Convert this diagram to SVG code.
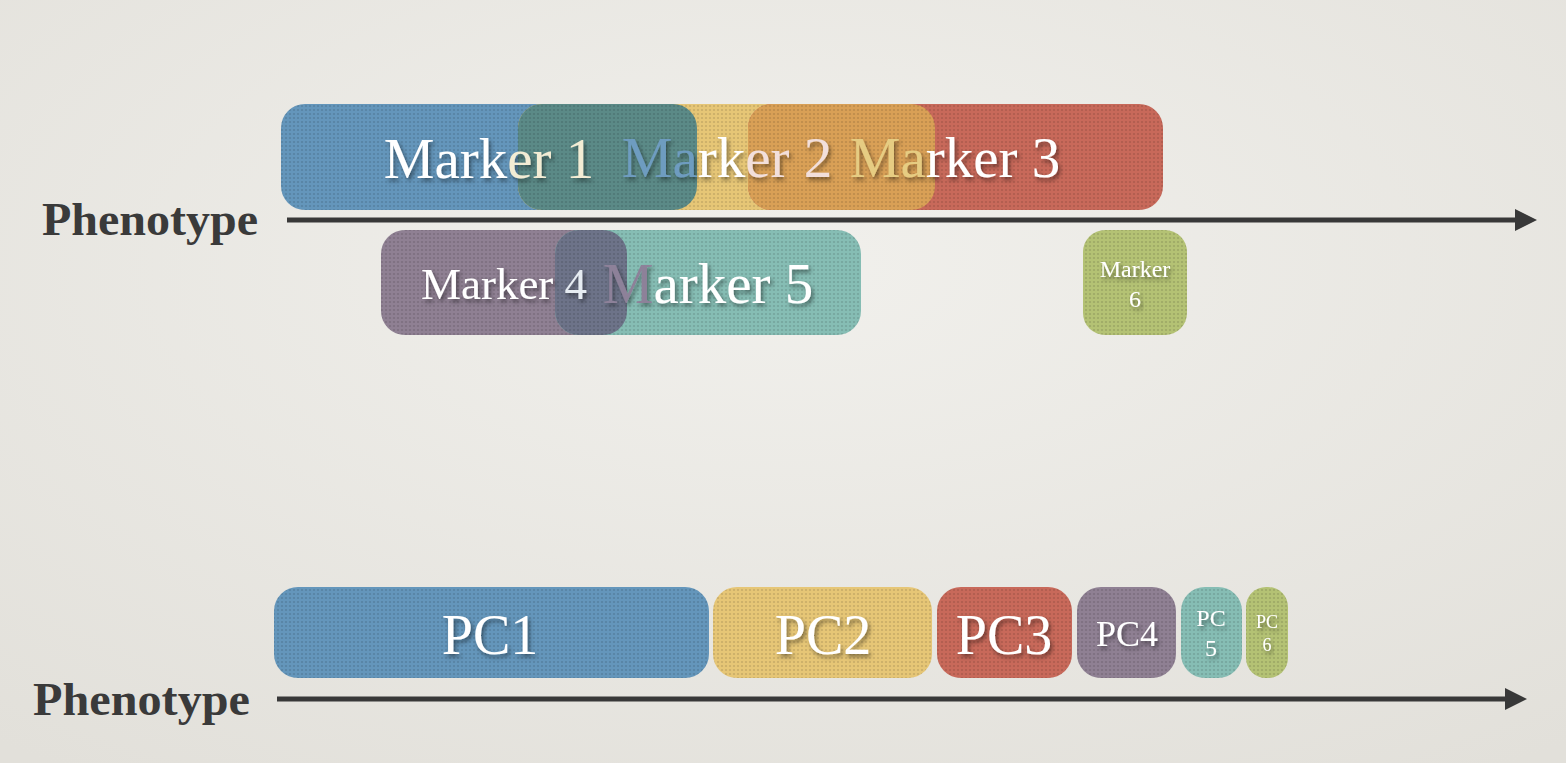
<svg xmlns="http://www.w3.org/2000/svg" width="1566" height="763" viewBox="0 0 1566 763">
<defs>
<radialGradient id="bg" cx="0.5" cy="0.35" r="0.8">
<stop offset="0" stop-color="#f1f0ec"/>
<stop offset="1" stop-color="#e2e0da"/>
</radialGradient>
<pattern id="dots" width="4" height="4" patternUnits="userSpaceOnUse">
<circle cx="2" cy="2" r="1.1" fill="#000" fill-opacity="0.13"/>
</pattern>
<filter id="sh" x="-20%" y="-30%" width="140%" height="160%">
<feDropShadow dx="2" dy="3" stdDeviation="2" flood-color="#000" flood-opacity="0.45"/>
</filter>
<marker id="arr" viewBox="0 0 22 22" refX="0" refY="11" markerWidth="22" markerHeight="22" markerUnits="userSpaceOnUse" orient="auto">
<path d="M0,0 L22,11 L0,22 Z" fill="#383838"/>
</marker>
</defs>
<style>
.lbl{font-family:"Liberation Serif","DejaVu Serif",serif;fill:#fff;text-anchor:middle;filter:url(#sh)}
.ph{font-family:"Liberation Serif","DejaVu Serif",serif;font-weight:bold;fill:#3a3a3a}
.dot{fill:url(#dots)}
.axis{stroke:#383838;stroke-width:5;fill:none}
</style>
<rect width="1566" height="763" fill="url(#bg)"/>

<g id="connectors">
<line class="axis" x1="287" y1="220" x2="1515" y2="220" marker-end="url(#arr)"/>
<line class="axis" x1="277" y1="699" x2="1505" y2="699" marker-end="url(#arr)"/>
</g>

<text class="ph" x="42" y="235" font-size="46" textLength="216" lengthAdjust="spacingAndGlyphs">Phenotype</text>
<text class="ph" x="33" y="715" font-size="46" textLength="217" lengthAdjust="spacingAndGlyphs">Phenotype</text>

<g id="marker1">
<rect x="281" y="104" width="416" height="106" rx="24" fill="#6496bb"/>
</g>
<g id="marker2">
<rect x="518" y="104" width="417" height="106" rx="24" fill="#e6c676"/>
</g>
<g id="marker3">
<rect x="748" y="104" width="415" height="106" rx="24" fill="#c8695a"/>
</g>
<rect x="518" y="104" width="179" height="106" rx="24" fill="#5b8a87"/>
<rect x="748" y="104" width="187" height="106" rx="24" fill="#d9a056"/>
<rect x="281" y="104" width="882" height="106" rx="24" class="dot"/>
<text class="lbl" x="489" y="178" font-size="57">Mark<tspan fill="#f3ecd4">er 1</tspan></text>
<text class="lbl" x="727" y="177" font-size="57"><tspan fill="#6e9cc0">Ma</tspan>rk<tspan fill="#f2dfdb">er 2</tspan></text>
<text class="lbl" x="955" y="177" font-size="57"><tspan fill="#e6cc82">Ma</tspan>rker 3</text>

<g id="marker4">
<rect x="381" y="230" width="246" height="105" rx="24" fill="#8f8093"/>
</g>
<g id="marker5">
<rect x="555" y="230" width="306" height="105" rx="24" fill="#86bdb4"/>
</g>
<rect x="555" y="230" width="72" height="105" rx="24" fill="#6d7389"/>
<rect x="381" y="230" width="480" height="105" rx="24" class="dot"/>
<text class="lbl" x="504" y="299" font-size="45">Marker <tspan fill="#e6ecf2">4</tspan></text>
<text class="lbl" x="708" y="303" font-size="57"><tspan fill="#8d8199">M</tspan>arker 5</text>

<g id="marker6">
<rect x="1083" y="230" width="104" height="105" rx="22" fill="#b4c274"/>
<rect x="1083" y="230" width="104" height="105" rx="22" class="dot"/>
<text class="lbl" x="1135" y="277" font-size="24">Marker</text>
<text class="lbl" x="1135" y="307" font-size="24">6</text>
</g>

<g id="pc1">
<rect x="274" y="587" width="435" height="91" rx="24" fill="#6496bb"/>
<rect x="274" y="587" width="435" height="91" rx="24" class="dot"/>
<text class="lbl" x="490" y="654" font-size="56">PC1</text>
</g>
<g id="pc2">
<rect x="713" y="587" width="219" height="91" rx="24" fill="#e6c676"/>
<rect x="713" y="587" width="219" height="91" rx="24" class="dot"/>
<text class="lbl" x="823" y="654" font-size="56">PC2</text>
</g>
<g id="pc3">
<rect x="937" y="587" width="135" height="91" rx="24" fill="#c8695a"/>
<rect x="937" y="587" width="135" height="91" rx="24" class="dot"/>
<text class="lbl" x="1004" y="654" font-size="56">PC3</text>
</g>
<g id="pc4">
<rect x="1077" y="587" width="99" height="91" rx="24" fill="#8f8093"/>
<rect x="1077" y="587" width="99" height="91" rx="24" class="dot"/>
<text class="lbl" x="1127" y="646" font-size="36">PC4</text>
</g>
<g id="pc5">
<rect x="1181" y="587" width="61" height="91" rx="24" fill="#86bdb4"/>
<rect x="1181" y="587" width="61" height="91" rx="24" class="dot"/>
<text class="lbl" x="1211" y="626" font-size="24">PC</text>
<text class="lbl" x="1211" y="656" font-size="24">5</text>
</g>
<g id="pc6">
<rect x="1246" y="587" width="42" height="91" rx="20" fill="#b4c274"/>
<rect x="1246" y="587" width="42" height="91" rx="20" class="dot"/>
<text class="lbl" x="1267" y="628" font-size="18">PC</text>
<text class="lbl" x="1267" y="651" font-size="18">6</text>
</g>
</svg>
